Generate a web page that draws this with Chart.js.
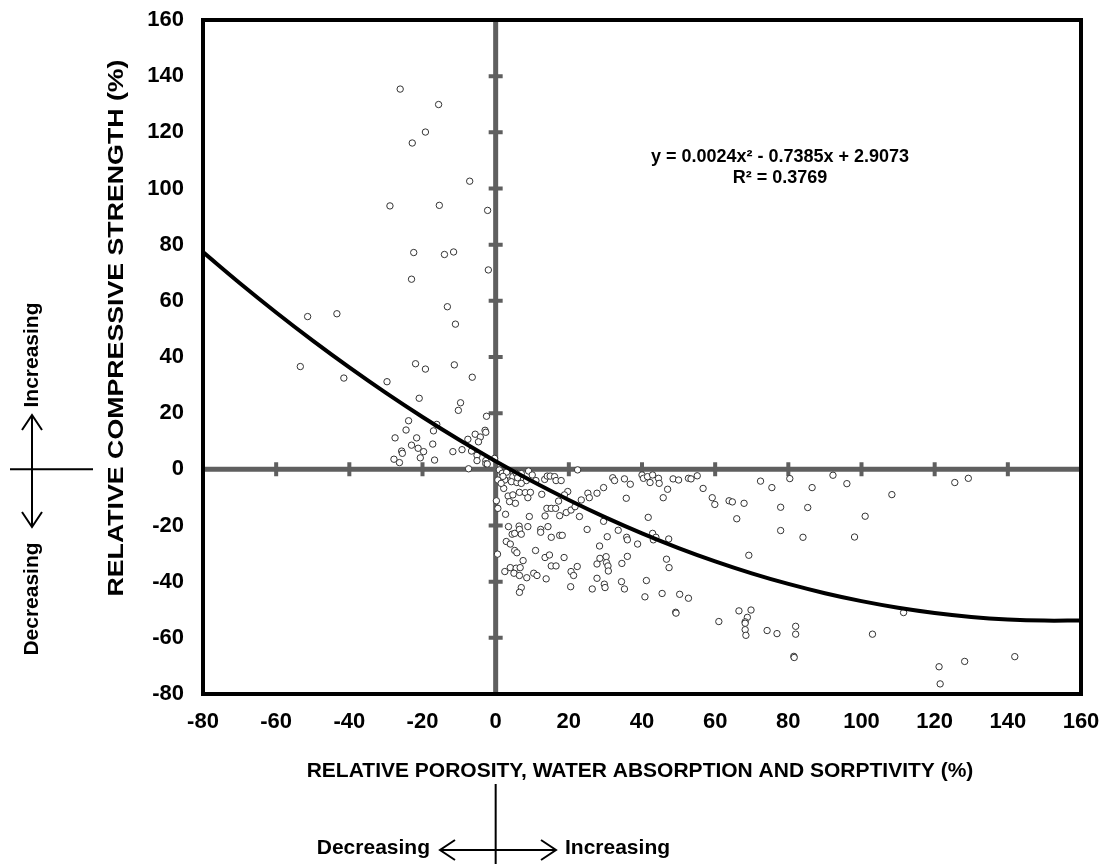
<!DOCTYPE html>
<html>
<head>
<meta charset="utf-8">
<title>Relative compressive strength vs relative porosity</title>
<script src="https://cdn.jsdelivr.net/npm/chart.js@4.4.1/dist/chart.umd.min.js"></script>
<style>
  html, body { margin: 0; padding: 0; background: #fff; }
  #chart { display: block; }
</style>
</head>
<body>
<canvas id="chart" width="1105" height="864"></canvas>
<script>
// Tick labels for both axes
const xTicks = [-80, -60, -40, -20, 0, 20, 40, 60, 80, 100, 120, 140, 160];
const yTicks = [-80, -60, -40, -20, 0, 20, 40, 60, 80, 100, 120, 140, 160];

// Scatter points: relative porosity / absorption / sorptivity (%) vs relative strength (%)
const relX = [
  -26.1, -15.6, -19.2, -22.8, -7.1, -28.9, -15.4, -2.2, -22.4, -14.0, -11.5, -2.0, -23.0,
  -13.2, -51.4, -43.4, -11.0, -53.4, -21.9, -19.2, -11.3, -41.5, -6.4, -29.7, -20.9, -9.6,
  -10.2, -2.5, -23.8, -16.1, -24.5, -17.0, -2.9, -2.7, -27.5, -21.6, -7.6, -5.6, -4.2,
  -4.7, -23.0, -21.2, -17.2, -19.7, -25.7, -25.5, -11.7, -9.2, -6.6, -5.1, -5.1, -20.6,
  -27.8, -26.3, -16.7, -2.7, -2.7, -7.4, -0.3, -2.3,
  9.0, 22.4, 1.0, 1.8, 3.4, 4.7, 5.6, 0.6, 2.5, 4.3, 5.8, 7.5, 8.4, 2.2, 3.4, 4.7, 6.5,
  8.1, 9.5, 8.8, 3.8, 5.4, 0.2, 0.6, 2.7, 12.6, 13.4, 14.1, 14.9, 16.1, 16.5, 17.9, 19.7,
  18.8, 17.2, 14.0, 15.2, 16.4, 13.5, 9.2, 19.3, 20.6, 17.5, 21.7, 22.9, 23.4, 25.2, 25.6,
  27.7, 29.5, 32.0, 32.5, 35.2, 36.8, 40.0, 40.4, 41.5, 42.9, 42.2, 44.5, 44.7, 47.0, 45.8,
  48.5, 50.0, 52.7, 53.4, 55.1, 56.7, 59.2, 59.9, 63.8, 64.7, 65.9, 35.7, 41.7, 29.5,
  3.5, 4.5, 5.2, 6.4, 6.5, 7.0, 8.8, 12.3, 12.3, 14.3, 15.2, 17.5, 18.2, 25.0, 30.5, 28.4,
  33.5, 35.8, 36.0, 38.8, 42.9, 43.1, 43.8, 47.3, 2.9, 4.0, 5.2, 5.8, 0.5, 10.9, 13.5,
  14.7, 7.5, 4.0, 5.6, 6.7, 2.5, 5.0, 6.5, 8.5, 10.4, 11.3, 13.8, 15.2, 16.5, 18.7, 20.6,
  21.3, 22.3, 20.5, 7.0, 6.5, 26.4, 27.7, 27.7, 28.5, 30.2, 30.3, 30.7, 30.8, 29.7, 29.9,
  34.5, 36.0, 34.4, 35.2, 41.2, 40.8, 45.5, 46.7, 47.4, 50.3, 52.7, 49.2, 49.3, 61.0, 66.5,
  72.4, 75.5, 80.4, 86.5, 92.2, 96.0, 108.3, 125.5, 129.2, 67.9, 77.9, 85.3, 101.0, 77.9,
  84.0, 98.1, 69.2, 69.8, 68.8, 68.2, 68.2, 68.2, 68.4, 74.2, 76.9, 82.0, 82.0, 81.5, 81.6,
  103.0, 111.5, 121.2, 121.5, 128.2, 141.9,
  3.0, 6.0, 7.0, 2.0, 1.5, 10.0, 11.0, 7.0
];
const relY = [
  135.4, 129.9, 120.1, 116.2, 102.6, 93.8, 94.0, 92.2, 77.2, 76.5, 77.4, 71.0, 67.7,
  57.9, 54.4, 55.4, 51.7, 36.6, 37.6, 35.7, 37.2, 32.5, 32.8, 31.2, 25.3, 23.7,
  21.0, 18.9, 17.3, 16.0, 14.0, 13.7, 13.9, 13.2, 11.2, 11.2, 10.7, 12.5, 11.5,
  9.8, 8.6, 7.5, 9.0, 6.3, 6.5, 5.7, 6.3, 7.0, 6.5, 5.0, 3.1, 4.1,
  3.6, 2.4, 3.3, 3.1, 2.0, 0.2, 3.9, 1.9,
  -0.6, -0.2, -0.2, -1.4, -2.0, -2.6, -1.4, -3.8, -3.8, -4.4, -4.7, -3.8, -4.0, -6.8, -9.5, -9.1, -8.2,
  -8.3, -8.2, -10.1, -11.5, -12.1, -11.2, -13.9, -16.0, -8.9, -3.6, -2.4, -2.4, -2.6, -4.0, -4.0, -7.9,
  -9.1, -11.3, -13.9, -13.9, -13.9, -16.6, -16.8, -15.4, -14.5, -16.5, -13.3, -16.8, -10.9, -8.5, -10.1,
  -8.5, -6.5, -3.0, -4.0, -3.4, -5.3, -2.0, -3.2, -2.6, -2.0, -4.7, -3.2, -5.0, -7.1, -10.1,
  -3.4, -3.8, -3.2, -3.4, -2.3, -6.8, -10.1, -12.5, -11.2, -11.6, -17.6, -10.3, -17.1, -18.5,
  -20.4, -23.1, -22.8, -20.2, -21.4, -23.1, -20.4, -21.4, -22.4, -20.4, -24.2, -23.5, -23.5, -21.4, -24.0, -27.3,
  -21.7, -24.2, -25.1, -26.6, -22.8, -25.1, -24.2, -24.8, -25.7, -26.6, -28.9, -29.7, -30.2, -28.9, -31.4,
  -30.5, -32.5, -35.0, -35.2, -35.0, -36.4, -37.0, -37.8, -38.6, -37.0, -37.8, -39.0, -34.4, -34.4, -31.4, -36.4,
  -37.8, -34.6, -41.8, -42.1, -43.8, -42.6, -38.8, -33.7, -31.7, -31.1, -33.2, -34.4, -36.2, -40.9, -42.1,
  -33.5, -31.0, -40.0, -42.6, -39.6, -45.4, -44.2, -32.0, -35.0, -44.5, -45.9, -50.9, -51.2, -54.2, -50.4,
  -4.2, -6.5, -3.3, -6.5, -2.1, -5.1, -9.0, -4.7, -3.2, -12.1, -13.5, -13.6, -16.7, -21.8,
  -24.2, -24.1, -30.6, -50.1, -52.7, -54.3, -54.8, -57.1, -59.1, -57.4, -58.5, -55.9, -58.7, -66.6, -67.0,
  -58.7, -51.0, -70.3, -76.4, -68.4, -66.7,
  -1.0, -3.0, -5.0, -2.5, -5.0, -2.0, -4.0, -1.5
];

// Polynomial trendline
const trendX = [-80, -70, -60, -50, -40, -30, -20, -10, 0, 10, 20, 30, 40, 50, 60, 70, 80, 90, 100, 110, 120, 130, 140, 150, 160];
const trendY = [77.35, 66.36, 55.86, 45.83, 36.29, 27.22, 18.64, 10.53, 2.91, -4.24, -10.90, -17.09, -22.79, -28.02, -32.76, -37.03, -40.81, -44.12, -46.94, -49.29, -51.15, -52.54, -53.44, -53.87, -53.82];

const equationText = 'y = 0.0024x\u00b2 - 0.7385x + 2.9073';
const rSquaredText = 'R\u00b2 = 0.3769';
const xTitle = 'RELATIVE POROSITY, WATER ABSORPTION AND SORPTIVITY (%)';
const yTitle = 'RELATIVE COMPRESSIVE STRENGTH (%)';

const FONT = '"Liberation Sans", Arial, sans-serif';
const AXIS_GREY = '#5f5f5f';

function arrowHead(ctx, tipX, tipY, dx, dy) {
  // dx,dy point from the tip back along the shaft
  const len = 15, half = 10;
  const nx = -dy, ny = dx;
  ctx.beginPath();
  ctx.moveTo(tipX + dx * len + nx * half, tipY + dy * len + ny * half);
  ctx.lineTo(tipX, tipY);
  ctx.lineTo(tipX + dx * len - nx * half, tipY + dy * len - ny * half);
  ctx.stroke();
}

const quadrantPlugin = {
  id: 'quadrants',
  beforeDatasetsDraw(chart) {
    const { ctx, chartArea: a, scales: { x, y } } = chart;
    const x0 = x.getPixelForValue(0);
    const y0 = y.getPixelForValue(0);
    ctx.save();
    ctx.strokeStyle = AXIS_GREY;
    ctx.lineWidth = 5;
    ctx.beginPath();
    ctx.moveTo(a.left, y0); ctx.lineTo(a.right, y0);
    ctx.moveTo(x0, a.top); ctx.lineTo(x0, a.bottom);
    ctx.stroke();
    // small tick bars across the zero axes
    ctx.lineWidth = 4;
    ctx.beginPath();
    xTicks.forEach(v => {
      if (v === 0) return;
      const px = x.getPixelForValue(v);
      ctx.moveTo(px, y0 - 7); ctx.lineTo(px, y0 + 7);
    });
    yTicks.forEach(v => {
      if (v === 0) return;
      const py = y.getPixelForValue(v);
      ctx.moveTo(x0 - 7, py); ctx.lineTo(x0 + 7, py);
    });
    ctx.stroke();
    ctx.restore();
  },
  afterDraw(chart) {
    const { ctx, chartArea: a, scales: { x, y } } = chart;
    ctx.save();

    // plot frame
    ctx.strokeStyle = '#000';
    ctx.lineWidth = 4;
    ctx.strokeRect(a.left, a.top, a.right - a.left, a.bottom - a.top);

    // tick labels
    ctx.fillStyle = '#000';
    ctx.font = 'bold 22px ' + FONT;
    ctx.textAlign = 'right';
    ctx.textBaseline = 'middle';
    yTicks.forEach(v => ctx.fillText(String(v), a.left - 19, y.getPixelForValue(v)));
    ctx.textAlign = 'center';
    xTicks.forEach(v => ctx.fillText(String(v), x.getPixelForValue(v), a.bottom + 28));

    // axis titles
    ctx.font = 'bold 21px ' + FONT;
    ctx.fillText(xTitle, 640, a.bottom + 77, 706);
    ctx.save();
    ctx.translate(117, 328);
    ctx.rotate(-Math.PI / 2);
    ctx.font = 'bold 22px ' + FONT;
    const w = ctx.measureText(yTitle).width;
    ctx.scale(537 / w, 1);
    ctx.fillText(yTitle, 0, 0);
    ctx.restore();

    // trendline equation
    ctx.font = 'bold 18px ' + FONT;
    ctx.fillText(equationText, 780, 157);
    ctx.fillText(rSquaredText, 780, 178);

    // direction keys
    const x0 = x.getPixelForValue(0);
    const y0 = y.getPixelForValue(0);
    ctx.strokeStyle = '#000';
    ctx.lineWidth = 2;
    ctx.beginPath();
    ctx.moveTo(10, y0); ctx.lineTo(93, y0);
    ctx.moveTo(32, 415); ctx.lineTo(32, 527);
    ctx.moveTo(x0, 784); ctx.lineTo(x0, 864);
    ctx.moveTo(440, 850); ctx.lineTo(556, 850);
    ctx.stroke();
    arrowHead(ctx, 32, 415, 0, 1);
    arrowHead(ctx, 32, 527, 0, -1);
    arrowHead(ctx, 440, 850, 1, 0);
    arrowHead(ctx, 556, 850, -1, 0);

    ctx.font = 'bold 21px ' + FONT;
    ctx.textBaseline = 'middle';
    ctx.textAlign = 'right';
    ctx.fillText('Decreasing', 430, 848);
    ctx.textAlign = 'left';
    ctx.fillText('Increasing', 565, 848);

    ctx.save();
    ctx.translate(32, 355);
    ctx.rotate(-Math.PI / 2);
    ctx.textAlign = 'center';
    ctx.fillText('Increasing', 0, 0);
    ctx.restore();
    ctx.save();
    ctx.translate(32, 599);
    ctx.rotate(-Math.PI / 2);
    ctx.textAlign = 'center';
    ctx.fillText('Decreasing', 0, 0);
    ctx.restore();

    ctx.restore();
  }
};

const scatterPoints = relX.map((v, i) => ({ x: v, y: relY[i] }));
const trendPoints = trendX.map((v, i) => ({ x: v, y: trendY[i] }));

new Chart(document.getElementById('chart'), {
  type: 'scatter',
  data: {
    datasets: [
      {
        label: 'Trendline',
        data: trendPoints,
        showLine: true,
        borderColor: '#000',
        borderWidth: 4,
        pointRadius: 0,
        tension: 0.4,
        order: 0
      },
      {
        label: 'Data',
        data: scatterPoints,
        pointRadius: 3.2,
        borderWidth: 1,
        borderColor: '#333',
        backgroundColor: '#fff',
        order: 1
      }
    ]
  },
  options: {
    responsive: false,
    animation: false,
    devicePixelRatio: 1,
    layout: { padding: { top: 20, right: 24, bottom: 0, left: 0 } },
    plugins: {
      legend: { display: false },
      tooltip: { enabled: false }
    },
    scales: {
      x: {
        min: -80,
        max: 160,
        grid: { display: false },
        border: { display: false },
        ticks: { display: false },
        afterFit: (scale) => { scale.height = 170; }
      },
      y: {
        min: -80,
        max: 160,
        grid: { display: false },
        border: { display: false },
        ticks: { display: false },
        afterFit: (scale) => { scale.width = 203; }
      }
    }
  },
  plugins: [quadrantPlugin]
});
</script>
</body>
</html>
